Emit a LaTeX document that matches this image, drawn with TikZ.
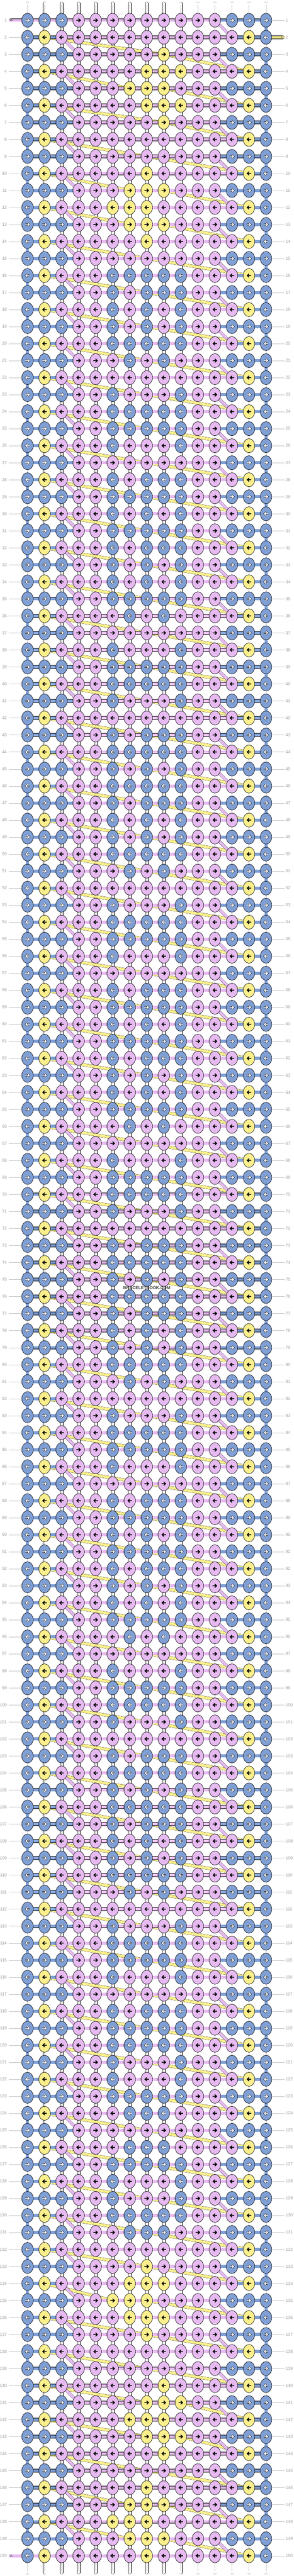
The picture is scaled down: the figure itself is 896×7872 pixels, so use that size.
\documentclass[tikz,border=0pt]{standalone}
\usepackage{fontspec}
\setmainfont{Liberation Sans}

% place the finished page box once instead of copying it (saves main memory)
\makeatletter
\DeclareRobustCommand*\usebox[1]{\leavevmode\box#1\relax}
\makeatother

\definecolor{kcB}{HTML}{7F9FD5}
\definecolor{kcP}{HTML}{E6BAF0}
\definecolor{kcY}{HTML}{FAEF8C}
\definecolor{labelgrey}{HTML}{9C9C9C}
\definecolor{guidegrey}{HTML}{C4C4C4}

\pgfdeclarelayer{strings}
\pgfdeclarelayer{bands}
\pgfdeclarelayer{rows}
\pgfsetlayers{strings,bands,rows,main}

% knot in column #1 of row \currow, colour letter #2 (B, P or Y)
\newcommand\knotat[2]{%
  \if Y#2\relax
    \ifx\firsty\empty\xdef\firsty{#1}\fi
    \xdef\lasty{#1}%
  \fi
  \pgfmathsetmacro\kx{84+52*(#1-1)}%
  \pgfmathsetmacro\ky{62+52*(\currow-1)}%
  \coordinate (n-\currow-#1) at (\kx,\ky);
  \filldraw[fill=kc#2] (\kx,\ky) ellipse [x radius=17.5, y radius=21.5];
  \if B#2\relax
    \draw[warrow] ({\kx-6.8*\adir},\ky) -- ({\kx+5.4*\adir},\ky) ({\kx-0.3*\adir},\ky-5.3) -- ({\kx+5.4*\adir},\ky) -- ({\kx-0.3*\adir},\ky+5.3);
  \else
    \draw[barrow] ({\kx-6.8*\adir},\ky) -- ({\kx+5.4*\adir},\ky) ({\kx-0.3*\adir},\ky-5.3) -- ({\kx+5.4*\adir},\ky) -- ({\kx-0.3*\adir},\ky+5.3);
  \fi}
\newcommand\knotnine[9]{\knotat{4}{#1}\knotat{5}{#2}\knotat{6}{#3}\knotat{7}{#4}\knotat{8}{#5}\knotat{9}{#6}\knotat{10}{#7}\knotat{11}{#8}\knotat{12}{#9}}

\begin{document}
\begin{tikzpicture}[x=1pt,y=-1pt,line width=1pt,
  every node/.style={inner sep=0pt, outer sep=0pt},
  barrow/.style={line width=2.6pt},
  warrow/.style={line width=0.9pt, double=white, double distance=2.4pt},
  strand/.style={double=#1, double distance=9pt},
  band/.style={double=#1, double distance=8pt},
  stub/.style={strand=#1, line cap=round},
  core/.style={draw=black!20, line width=0.8pt, shorten <=4pt, shorten >=4pt},
  guide/.style={draw=guidegrey},
  rowno/.style={text=labelgrey, font=\fontsize{13}{13}\selectfont},
  letter/.style={text=black!75, font=\fontsize{11}{11}\selectfont}]
\useasboundingbox (0,0) rectangle (896,7872);

% knots, row by row (columns 4 to 12 given as letters)
\foreach \r/\m in {
  1/PPPPPPPPP, 2/PPPPPPPPP, 3/PPPPPYPPP, 4/PPPPYYYPP, 5/PPPYYYPPP,
  6/PPPPYYYPP, 7/PPPPPYPPP, 8/PPPPPPPPP, 9/PPPPPPPPP, 10/PPPPYPPPP,
  11/PPPYYYPPP, 12/PPYYYPPPP, 13/PPPYYYPPP, 14/PPPPYPPPP, 15/PPPPPPPPP,
  16/PPBBBBBPP, 17/PPBPBBBPP, 18/PPBPBPBPP, 19/PPBPBPBPP, 20/PPBBBBBPP,
  21/PPPBPBPPP, 22/PPPPPPPPP, 23/PPBPPPBPP, 24/PPBBBBBPP, 25/PPBBBBBPP,
  26/PPBPPPBPP, 27/PPPPPPPPP, 28/PPBPBBBPP, 29/PPBBBBBPP, 30/PPBPBPBPP,
  31/PPBBBBBPP, 32/PPBPBBBPP, 33/PPBPBPBPP, 34/PPBPBPBPP, 35/PPBBBBBPP,
  36/PPPBPBPPP, 37/PPPPPPPPP, 38/PPBPPPBPP, 39/PPBBBBBPP, 40/PPBBBBBPP,
  41/PPBPPPBPP, 42/PPPPPPPPP, 43/PPBPBBBPP, 44/PPBBBBBPP, 45/PPBPBPBPP,
  46/PPBBBBBPP, 47/PPBPBBBPP, 48/PPBPBPBPP, 49/PPBPBPBPP, 50/PPBBBBBPP,
  51/PPPBPBPPP, 52/PPPPPPPPP, 53/PPBPPPBPP, 54/PPBBBBBPP, 55/PPBBBBBPP,
  56/PPBPPPBPP, 57/PPPPPPPPP, 58/PPBPBBBPP, 59/PPBBBBBPP, 60/PPBPBPBPP,
  61/PPBBBBBPP, 62/PPBPBBBPP, 63/PPBPBPBPP, 64/PPBPBPBPP, 65/PPBBBBBPP,
  66/PPPBPBPPP, 67/PPPPPPPPP, 68/PPBPPPBPP, 69/PPBBBBBPP, 70/PPBBBBBPP,
  71/PPBPPPBPP, 72/PPPPPPPPP, 73/PPBPBBBPP, 74/PPBBBBBPP, 75/PPBPBPBPP,
  76/PPBBBBBPP, 77/PPBPBBBPP, 78/PPBPBPBPP, 79/PPBPBPBPP, 80/PPBBBBBPP,
  81/PPPBPBPPP, 82/PPPPPPPPP, 83/PPBPPPBPP, 84/PPBBBBBPP, 85/PPBBBBBPP,
  86/PPBPPPBPP, 87/PPPPPPPPP, 88/PPBPBBBPP, 89/PPBBBBBPP, 90/PPBPBPBPP,
  91/PPBBBBBPP, 92/PPBPBBBPP, 93/PPBPBPBPP, 94/PPBPBPBPP, 95/PPBBBBBPP,
  96/PPPBPBPPP, 97/PPPPPPPPP, 98/PPBPPPBPP, 99/PPBBBBBPP, 100/PPBBBBBPP,
  101/PPBPPPBPP, 102/PPPPPPPPP, 103/PPBPBBBPP, 104/PPBBBBBPP, 105/PPBPBPBPP,
  106/PPBBBBBPP, 107/PPBPBBBPP, 108/PPBPBPBPP, 109/PPBPBPBPP, 110/PPBBBBBPP,
  111/PPPBPBPPP, 112/PPPPPPPPP, 113/PPBPPPBPP, 114/PPBBBBBPP, 115/PPBBBBBPP,
  116/PPBPPPBPP, 117/PPPPPPPPP, 118/PPBPBBBPP, 119/PPBBBBBPP, 120/PPBBBBBPP,
  121/PPBPPPBPP, 122/PPBPPPBPP, 123/PPBBBBBPP, 124/PPPBBBPPP, 125/PPPPPPPPP,
  126/PPPBBBPPP, 127/PPBBBBBPP, 128/PPBPPPBPP, 129/PPBPPPBPP, 130/PPBBBBBPP,
  131/PPPBBBPPP, 132/PPPPPPPPP, 133/PPPPYPPPP, 134/PPPYYYPPP, 135/PPYYYPPPP,
  136/PPPYYYPPP, 137/PPPPYPPPP, 138/PPPPPPPPP, 139/PPPPPPPPP, 140/PPPPPYPPP,
  141/PPPPYYYPP, 142/PPPYYYPPP, 143/PPPPYYYPP, 144/PPPPPYPPP, 145/PPPPPPPPP,
  146/PPPPYPPPP, 147/PPPYYYPPP, 148/PPYYYPPPP, 149/PPPYYYPPP, 150/PPPPYPPPP}{
  \xdef\currow{\r}
  \gdef\firsty{}\gdef\lasty{}
  \ifodd\r \gdef\adir{1}\else \gdef\adir{-1}\fi
  \knotat{1}{B}
  \ifodd\r \knotat{2}{B}\knotat{3}{B}\else \knotat{2}{Y}\knotat{3}{P}\fi
  \expandafter\knotnine\m
  \ifodd\r \knotat{13}{B}\knotat{14}{B}\else \knotat{13}{P}\knotat{14}{Y}\fi
  \knotat{15}{B}
  \expandafter\xdef\csname fy\r\endcsname{\firsty}
  \expandafter\xdef\csname ly\r\endcsname{\lasty}
  \node[rowno, anchor=east] (ll-\r) at (21,{62+52*(\r-1)}) {\r};
  \node[rowno, anchor=west] (lr-\r) at (872,{62+52*(\r-1)}) {\r};
}

% vertical strings
\begin{pgfonlayer}{strings}
\fill[white] (0,0) rectangle (896,7872);
\foreach \c in {1,...,15}{
  \coordinate (t-\c) at ({84+52*(\c-1)},10.5);
  \coordinate (b-\c) at ({84+52*(\c-1)},7861.5);
  \draw[stub=white] (t-\c) -- (b-\c);
  \draw[core] (t-\c) -- (b-\c);
}
\foreach \r in {2,4,...,148}{
  \pgfmathtruncatemacro\rn{\r+1}
  \draw[strand=kcB] (n-\r-1) -- (n-\rn-1);
}
\foreach \r in {1,3,...,149}{
  \pgfmathtruncatemacro\rn{\r+1}
  \draw[strand=kcB] (n-\r-15) -- (n-\rn-15);
}
\end{pgfonlayer}

% crossing strings
\begin{pgfonlayer}{bands}
\foreach \r in {3,5,...,149}{
  \pgfmathtruncatemacro\rp{\r-1}
  \pgfmathtruncatemacro\rn{\r+1}
  \edef\fy{\csname fy\r\endcsname}
  \edef\ly{\csname ly\r\endcsname}
  \ifx\fy\empty
    \draw[band=kcY] (n-\rp-2) -- (n-\rn-14);
  \else
    \draw[band=kcY] (n-\rp-2) -- (n-\r-\fy);
    \draw[band=kcY] (n-\r-\ly) -- (n-\rn-14);
  \fi
}
\foreach \r in {2,4,...,148}{
  \pgfmathtruncatemacro\rn{\r+1}
  \draw[band=kcP] (n-\r-3) -- (n-\rn-4);
}
\foreach \r in {1,3,...,149}{
  \pgfmathtruncatemacro\rn{\r+1}
  \draw[band=kcP] (n-\r-12) -- (n-\rn-13);
}
\end{pgfonlayer}

% working strings along the rows
\begin{pgfonlayer}{rows}
\foreach \r in {1,...,150}{
  \ifodd\r
    \ifnum\r=1 \draw[strand=kcP] (n-\r-1) -- (n-\r-4);
    \else \draw[strand=kcB] (n-\r-1) -- (n-\r-4);\fi
    \draw[strand=kcP] (n-\r-4) -- (n-\r-12);
    \draw[strand=kcB] (n-\r-12) -- (n-\r-15);
  \else
    \ifnum\r=150 \draw[strand=kcP] (n-\r-1) -- (n-\r-3);
    \else \draw[strand=kcB] (n-\r-1) -- (n-\r-3);\fi
    \draw[strand=kcP] (n-\r-3) -- (n-\r-13);
    \draw[strand=kcB] (n-\r-13) -- (n-\r-15);
  \fi
  \ifnum\r=1 \else\ifnum\r=150 \else
    \draw[guide] ([xshift=5pt]ll-\r.east) -- (n-\r-1);
  \fi\fi
  \ifnum\r=2 \else
    \draw[guide] (n-\r-15) -- ([xshift=-3pt]lr-\r.west);
  \fi
}
\coordinate (a-1) at (32.5,62);
\coordinate (a-150) at (32.5,7810);
\coordinate (c-2) at (863.5,114);
\draw[stub=kcP] (a-1) -- (n-1-1);
\draw[stub=kcP] (a-150) -- (n-150-1);
\draw[stub=kcY] (c-2) -- (n-2-15);
\node[letter] (la-1) at (34.5,62) {A};
\node[letter] (la-150) at (34.5,7810) {A};
\node[letter] (lc-2) at (861.5,114) {C};
\end{pgfonlayer}

\node[font=\bfseries\fontsize{13}{13}\selectfont, text=black!80] (mark) at (448,3936) {BRACELETBOOK.COM};
\end{tikzpicture}
\end{document}
